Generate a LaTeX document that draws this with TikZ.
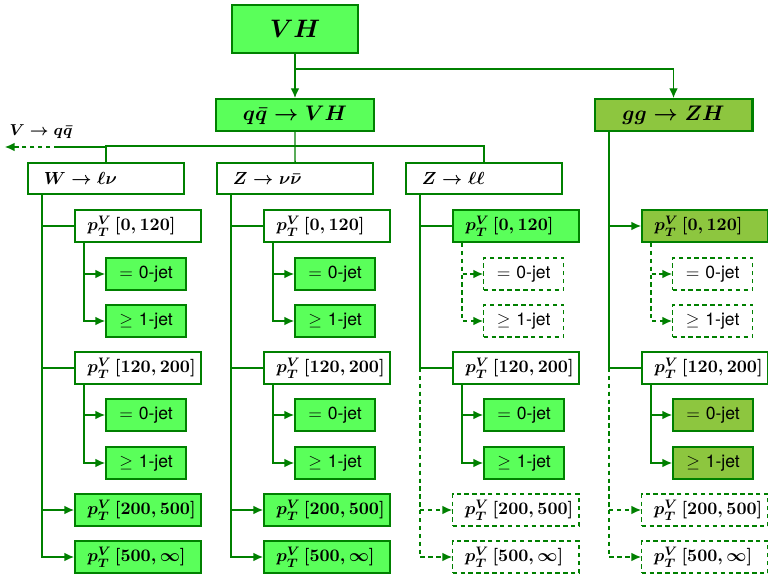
\documentclass[tikz,border=0pt]{standalone}
\usepackage{fontspec}
\newfontfamily\heros{TeX Gyre Heros}
\usetikzlibrary{arrows.meta}
\definecolor{dgreen}{RGB}{0,128,0}
\definecolor{lgreen}{RGB}{90,255,90}
\definecolor{ggolive}{RGB}{141,198,63}
\newcommand\ptrange[1]{$p_T^V\,[#1]$}
\newcommand\jetlab[2]{$#1$ {\heros #2-jet}}
\begin{document}
\begin{tikzpicture}[x=0.57pt,y=-0.57pt,>={Latex[length=5.5pt,width=5pt]},
  conn/.style={draw=dgreen, line width=0.75pt},
  dconn/.style={conn, dash pattern=on 2.5pt off 2pt},
  box/.style={draw=dgreen, line width=1.2pt, text=black, font=\boldmath},
  wht/.style={box, fill=white},
  grn/.style={box, fill=lgreen},
  olv/.style={box, fill=ggolive},
  dsh/.style={box, fill=white, line width=0.75pt, dash pattern=on 2.5pt off 2pt},
  catbox/.style={minimum height=17.7pt, text width=71pt, inner xsep=9pt, align=left, anchor=west},
  ptbox/.style={minimum height=18.2pt, text width=58pt, inner xsep=7pt, align=left, anchor=west},
  jetbox/.style={minimum width=45.6pt, minimum height=18.2pt, anchor=west, font=\normalsize}]
  \useasboundingbox (0,0) rectangle (768,574);
  % production modes
  \node[grn, minimum width=71.8pt, minimum height=27.4pt, font=\Large\boldmath] (vh) at (295,29) {$VH$};
  \node[grn, minimum width=90pt, minimum height=18.2pt, font=\large\boldmath] (qq) at (295,115) {$q\bar q\to VH$};
  \node[olv, minimum width=90pt, minimum height=18.2pt, font=\large\boldmath] (gg) at (673.5,115) {$gg\to ZH$};
  \draw[conn,->] (vh) -- (qq);
  \draw[conn,->] (vh.south) ++(0,15) -| (gg.north);
  % decay channels
  \node[wht,catbox] (wl) at (27,178.5) {$W\to\ell\nu$};
  \node[wht,catbox] (zvv) at (216,178.5) {$Z\to\nu\bar\nu$};
  \node[wht,catbox] (zll) at (405,178.5) {$Z\to\ell\ell$};
  \coordinate (vq) at (58,147);
  \coordinate (vqend) at (5,147);
  \draw[conn] (qq) -- (zvv);
  \draw[conn] (wl.north) -- ++(0,-16) -| (zll.north);
  \draw[conn] (vq) -- (wl.north |- vq);
  \draw[dconn,->] (vq) -- (vqend);
  \node[font=\small\boldmath] (vqlab) at (41,132) {$V\to q\bar q$};
  % pT and jet bins per channel
  \foreach \col/\X/\src/\ptA/\arA/\jA/\jcA/\jB/\hi/\hc in {
    1/0/wl/wht/-/grn/conn/grn/grn/conn,
    2/189/zvv/wht/-/grn/conn/grn/grn/conn,
    3/378/zll/grn/-/dsh/dconn/grn/dsh/dconn,
    4/567/gg/olv/->/dsh/dconn/olv/dsh/dconn} {
    \begin{scope}[xshift=\X*0.57pt]
      \coordinate (sp\col) at (42,0);
      \coordinate (ss\col) at (84,0);
      \node[\ptA,ptbox] (pa\col) at (74,226) {\ptrange{0,120}};
      \node[wht,ptbox] (pb\col) at (74,368) {\ptrange{120,200}};
      \node[\hi,ptbox] (pc\col) at (74,510) {\ptrange{200,500}};
      \node[\hi,ptbox] (pd\col) at (74,557) {\ptrange{500,\infty}};
      \node[\jA,jetbox] (ja\col) at (105,274) {\jetlab{=}{0}};
      \node[\jA,jetbox] (jb\col) at (105,321) {\jetlab{\geq}{1}};
      \node[\jB,jetbox] (jc\col) at (105,415) {\jetlab{=}{0}};
      \node[\jB,jetbox] (jd\col) at (105,463) {\jetlab{\geq}{1}};
    \end{scope}
    \draw[conn,\arA] (\src.south -| sp\col) |- (pa\col.west);
    \draw[conn] (\src.south -| sp\col) |- (pb\col.west);
    \draw[\hc,->] (pb\col.west -| sp\col) |- (pc\col.west);
    \draw[\hc,->] (pb\col.west -| sp\col) |- (pd\col.west);
    \draw[\jcA,->] (pa\col.south -| ss\col) |- (ja\col.west);
    \draw[\jcA,->] (pa\col.south -| ss\col) |- (jb\col.west);
    \draw[conn,->] (pb\col.south -| ss\col) |- (jc\col.west);
    \draw[conn,->] (pb\col.south -| ss\col) |- (jd\col.west);
  }
\end{tikzpicture}
\end{document}
